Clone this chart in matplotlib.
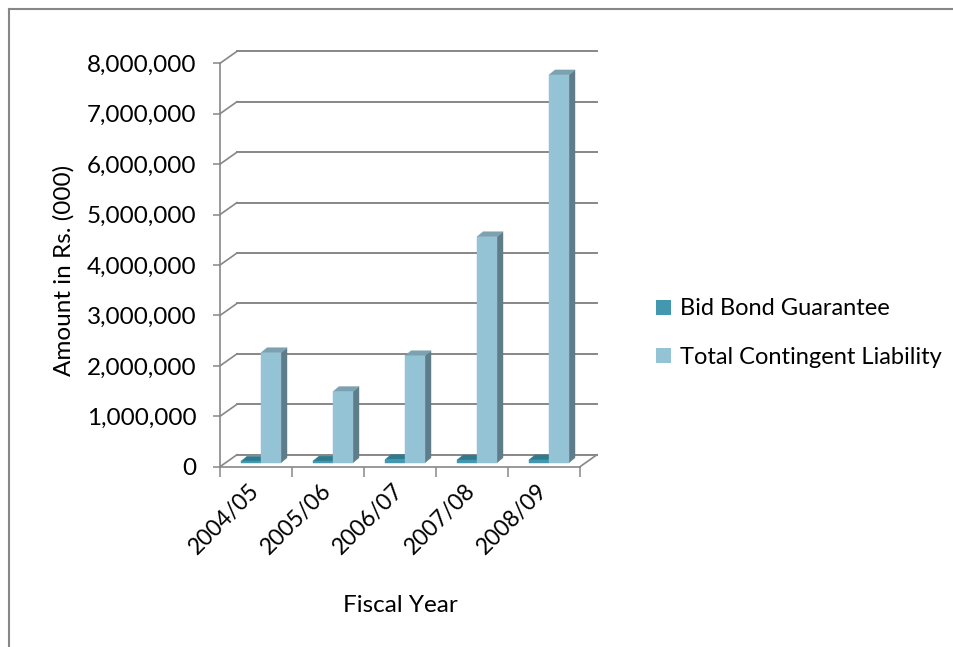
import matplotlib.pyplot as plt
from matplotlib.patches import Polygon, Patch
from matplotlib.lines import Line2D

plt.rcParams['font.family'] = ['Lato', 'DejaVu Sans']

years = ['2004/05', '2005/06', '2006/07', '2007/08', '2008/09']
bid_bond = [28000, 32000, 60000, 52000, 55000]
total_liability = [2180000, 1410000, 2120000, 4480000, 7690000]
series_names = ['Bid Bond Guarantee', 'Total Contingent Liability']
y_ticks = list(range(0, 8000001, 1000000))

# face colours: front, side, top
bid_cols = ('#4397AE', '#2A6373', '#2E7A8E')
tot_cols = ('#93C3D5', '#5E7D88', '#7CA2B1')
grey = '#878787'
fs = 17.5

fig = plt.figure(figsize=(9.54, 6.47), dpi=100)
ax = fig.add_axes([220 / 954, 1 - 466.7 / 647, 360 / 954, 403.4 / 647])
ax.set_xlim(0, 5)
ax.set_ylim(0, 8000000)

bb = ax.get_window_extent()
ux = 5 / bb.width          # data units per pixel
uy = 8000000 / bb.height

def px(dx, dy):
    return dx * ux, dy * uy

# back wall offset and bar placement offsets (pixels)
bx, by = px(17, 12)
ox, oy = px(5, 4)
dx, dy = px(6, 5)
bw = 20 * ux

# back wall gridlines and wall edge joins
for v in y_ticks:
    ax.add_line(Line2D([bx, 5 + bx], [v + by, v + by], color=grey, lw=1.4,
                       clip_on=False, zorder=1))
    ax.add_line(Line2D([0, bx], [v, v + by], color=grey, lw=1.2,
                       clip_on=False, zorder=1))
# floor right edge
ax.add_line(Line2D([5, 5 + bx], [0, by], color=grey, lw=1.2, clip_on=False, zorder=1))


def bar3d(x0, v, cols, z):
    x0 = x0 + ox
    y0 = oy
    front = [(x0, y0), (x0 + bw, y0), (x0 + bw, y0 + v), (x0, y0 + v)]
    side = [(x0 + bw, y0), (x0 + bw + dx, y0 + dy), (x0 + bw + dx, y0 + v + dy), (x0 + bw, y0 + v)]
    top = [(x0, y0 + v), (x0 + bw, y0 + v), (x0 + bw + dx, y0 + v + dy), (x0 + dx, y0 + v + dy)]
    for pts, c in zip((side, top, front), (cols[1], cols[2], cols[0])):
        ax.add_patch(Polygon(pts, closed=True, facecolor=c, edgecolor=c, lw=0.3,
                             clip_on=False, zorder=z))


for i in range(len(years)):
    c = i + 0.5
    bar3d(c - bw, bid_bond[i], bid_cols, 3 + 2 * i)
    bar3d(c, total_liability[i], tot_cols, 4 + 2 * i)

for s in ['top', 'right']:
    ax.spines[s].set_visible(False)
for s in ['left', 'bottom']:
    ax.spines[s].set_color(grey)
    ax.spines[s].set_linewidth(1.2)

ax.set_yticks(y_ticks)
ax.set_yticklabels([f'{v:,}' for v in y_ticks])
ax.tick_params(axis='y', length=5, width=1.1, color=grey, pad=12, labelsize=fs)

ax.set_xticks([i + 0.5 for i in range(len(years))])
ax.set_xticklabels(years)
ax.set_xticks(range(len(years) + 1), minor=True)
ax.tick_params(axis='x', which='major', length=0, pad=15, labelsize=16.5)
ax.tick_params(axis='x', which='minor', length=7, width=1.1, color=grey)
for lab in ax.get_xticklabels():
    lab.set_rotation(45)
    lab.set_ha('right')
    lab.set_va('center')
    lab.set_rotation_mode('anchor')

fig.text(64 / 954, 1 - 270 / 647, 'Amount in Rs. (000)', rotation=90,
         ha='center', va='center', fontsize=fs)
fig.text(400 / 954, 1 - 605 / 647, 'Fiscal Year', ha='center', va='center', fontsize=fs)

handles = [Patch(facecolor=bid_cols[0]), Patch(facecolor=tot_cols[0])]
fig.legend(handles, series_names, loc='center left',
           bbox_to_anchor=(647 / 954, 1 - 333 / 647), frameon=False,
           fontsize=17, handlelength=0.6, handleheight=0.6,
           handletextpad=0.4, labelspacing=1.15, borderaxespad=0)

# chart area border
fig.add_artist(Line2D([9.5 / 954, 1], [1 - 8.5 / 647, 1 - 8.5 / 647],
                      transform=fig.transFigure, color=grey, lw=1.5))
fig.add_artist(Line2D([9.5 / 954, 9.5 / 954], [0, 1 - 8.5 / 647],
                      transform=fig.transFigure, color=grey, lw=1.5))

fig.savefig('out.png', dpi=100)
